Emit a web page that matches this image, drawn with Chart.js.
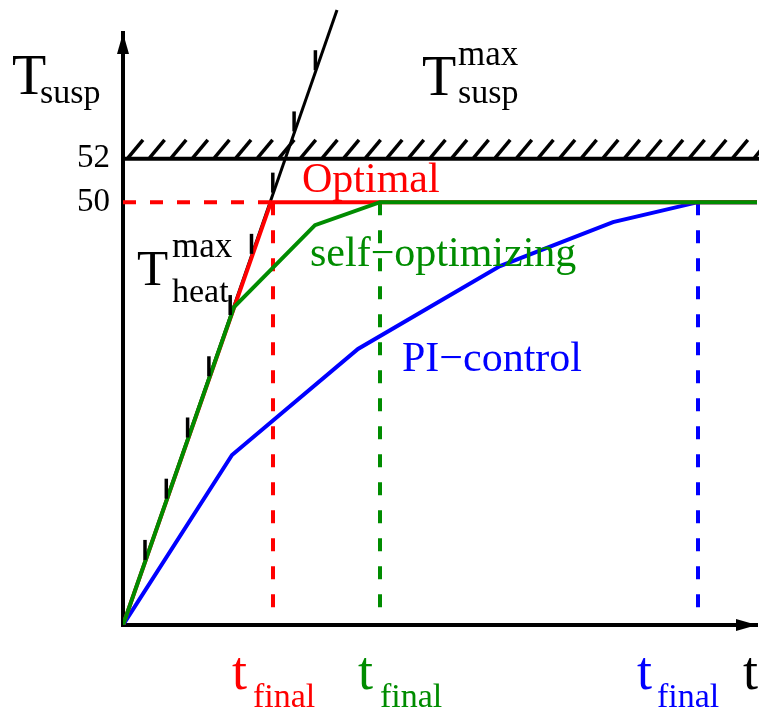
<!DOCTYPE html>
<html><head><meta charset="utf-8">
<script src="https://cdn.jsdelivr.net/npm/chart.js@4"></script>
<style>html,body{margin:0;padding:0;background:#fff;overflow:hidden}</style>
</head><body>
<canvas id="c" width="759" height="712"></canvas>
<script>
// ---- data (time in arbitrary units, temperature in °C) ----
const heatLimitT = [0, 21.4];
const heatLimitY = [30.5, 58.86];
const optimalT = [0, 14.8, 63.6];
const optimalY = [30.5, 50, 50];
const selfOptT = [0, 11.1, 19.2, 25.7, 63.6];
const selfOptY = [30.5, 45.16, 48.94, 50, 50];
const piT = [0, 10.9, 23.5, 37.7, 49.0, 57.5, 63.6];
const piY = [30.5, 38.34, 43.23, 47.05, 49.08, 50, 50];
const finalTimes = [15.0, 25.7, 57.5];   // optimal, self-optimizing, PI
const setpoint = 50;
const suspMax = 52;
const yTickLabels = [50, 52];
const axisBottomValue = 31.19;

const RED = '#ff0000', GREEN = '#008c00', BLUE = '#0000ff';
const pts = (xs, ys) => xs.map((v, i) => ({x: v, y: ys[i]}));

const datasets = [
  {label:'Optimal', data: pts(optimalT, optimalY), borderColor: RED, borderWidth: 4, order: 2},
  {label:'self-optimizing', data: pts(selfOptT, selfOptY), borderColor: GREEN, borderWidth: 4, order: 1},
  {label:'PI-control', data: pts(piT, piY), borderColor: BLUE, borderWidth: 4, order: 3},
  {label:'heat max', data: pts(heatLimitT, heatLimitY), borderColor: '#000', borderWidth: 3, order: 8, clip: false},
  {label:'susp max', data: pts([0, optimalT[2]], [suspMax, suspMax]), borderColor: '#000', borderWidth: 4, order: 7, clip: false},
  {label:'setpoint dash', data: pts([0, optimalT[1]], [setpoint, setpoint]), borderColor: RED, borderWidth: 4, borderDash:[13,14], order: 6},
];
const finalColors = [RED, GREEN, BLUE];
finalTimes.forEach((t, i) => datasets.push({
  label:'tfinal'+i, data: pts([t, t], [setpoint, axisBottomValue]),
  borderColor: finalColors[i], borderWidth: 4, borderDash:[13,15], order: 5
}));

const annot = {
  id: 'annot',
  afterDatasetsDraw(chart) {
    const {ctx, scales: {x, y}} = chart;
    ctx.save();
    ctx.strokeStyle = '#000'; ctx.fillStyle = '#000'; ctx.lineCap = 'butt';
    // hatch above T_susp max line
    const yh = y.getPixelForValue(suspMax);
    ctx.lineWidth = 3.5;
    for (let px = x.getPixelForValue(0) + 5; px < chart.width; px += 21.6) {
      ctx.beginPath(); ctx.moveTo(px, yh - 1); ctx.lineTo(px + 15, yh - 19); ctx.stroke();
    }
    // ticks on the heating-limit line
    const x0 = x.getPixelForValue(heatLimitT[0]), y0 = y.getPixelForValue(heatLimitY[0]);
    const x1 = x.getPixelForValue(heatLimitT[1]), y1 = y.getPixelForValue(heatLimitY[1]);
    for (let t = 2.3; t < 20; t += 2.13) {
      const px = x.getPixelForValue(t);
      const py = y0 + (y1 - y0) * (px - x0) / (x1 - x0);
      ctx.beginPath(); ctx.moveTo(px - 1, py + 1); ctx.lineTo(px - 1, py - 19); ctx.stroke();
    }
    // arrows
    const ax = chart.chartArea.left, ay = chart.chartArea.bottom;
    ctx.beginPath(); ctx.moveTo(ax, chart.chartArea.top); ctx.lineTo(ax - 6, chart.chartArea.top + 21);
    ctx.lineTo(ax + 6, chart.chartArea.top + 21); ctx.closePath(); ctx.fill();
    ctx.beginPath(); ctx.moveTo(chart.chartArea.right, ay); ctx.lineTo(chart.chartArea.right - 21, ay - 6);
    ctx.lineTo(chart.chartArea.right - 21, ay + 6); ctx.closePath(); ctx.fill();
    // texts
    const txt = (s, px, py, size, col) => {
      ctx.font = size + 'px "Liberation Serif"'; ctx.fillStyle = col || '#000';
      ctx.textAlign = 'left'; ctx.textBaseline = 'alphabetic'; ctx.fillText(s, px, py);
    };
    txt('T', 12, 94, 56); txt('susp', 40, 103, 34);
    txt('T', 422, 95, 56); txt('max', 458, 65, 35); txt('susp', 458, 103, 34);
    txt('T', 137, 285, 51); txt('max', 172, 257, 35); txt('heat', 172, 302, 34);
    txt('Optimal', 302, 192, 42, RED);
    txt('self\u2212optimizing', 310, 266, 42, GREEN);
    txt('PI\u2212control', 402, 371, 42, BLUE);
    const tl = [[232, 253], [358, 380], [637, 657]];
    tl.forEach((p, i) => { txt('t', p[0], 689, 54, finalColors[i]); txt('final', p[1], 707, 34, finalColors[i]); });
    txt('t', 743, 689, 54);
    ctx.restore();
  }
};

new Chart(document.getElementById('c'), {
  type: 'line',
  data: {datasets},
  options: {
    responsive: false, animation: false, devicePixelRatio: 1,
    layout: {padding: {left: 0, right: 2, top: 33, bottom: 0}},
    plugins: {legend: {display: false}, tooltip: {enabled: false}},
    elements: {point: {radius: 0}, line: {tension: 0, fill: false}},
    scales: {
      x: {type: 'linear', min: 0, max: 63.4,
          grid: {display: false, drawTicks: false},
          border: {display: true, color: '#000', width: 4},
          ticks: {display: false},
          afterFit(s) { s.height = 87; }},
      y: {type: 'linear', min: 30.5, max: 57.8,
          grid: {display: false, drawTicks: false},
          border: {display: true, color: '#000', width: 4},
          ticks: {color: '#000', padding: 13, font: {family: 'Liberation Serif', size: 33}},
          afterBuildTicks(s) { s.ticks = yTickLabels.map(v => ({value: v})); },
          afterFit(s) { s.width = 123; }}
    }
  },
  plugins: [annot]
});
</script>
</body></html>
